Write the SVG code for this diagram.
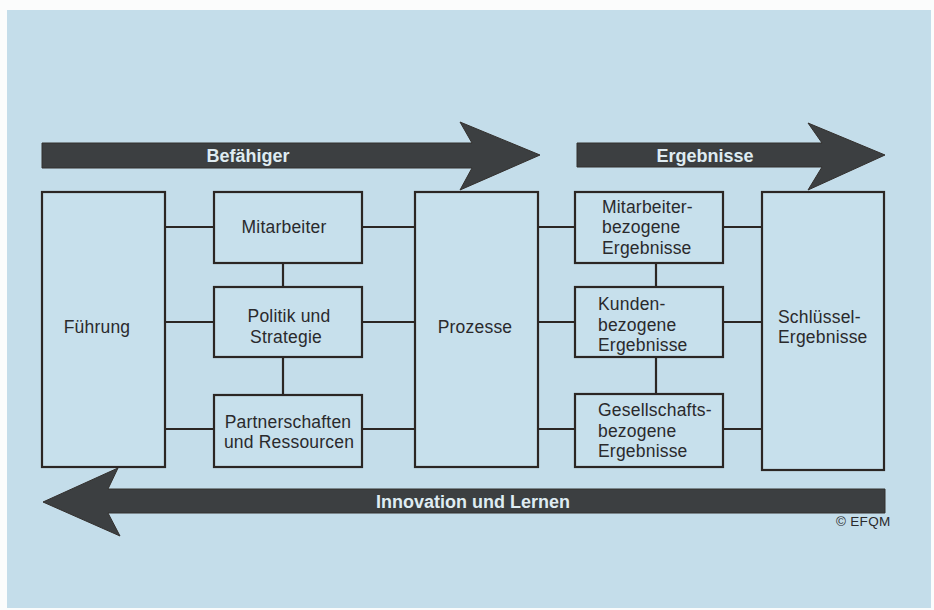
<svg xmlns="http://www.w3.org/2000/svg" width="934" height="610" viewBox="0 0 934 610">
<style>
  .box { fill: #c7e0ec; stroke: #2b2624; stroke-width: 2.2; }
  .conn { stroke: #2b2624; stroke-width: 2.2; fill: none; }
  .arrow { fill: #3c3f41; stroke: #33302e; stroke-width: 1; }
  .t { font-family: "Liberation Sans", Arial, sans-serif; font-size: 17.5px; fill: #2a2a2c; letter-spacing: 0.2px; }
  .c { text-anchor: middle; }
  .bar { font-family: "Liberation Sans", Arial, sans-serif; font-size: 18px; font-weight: bold; fill: #dfecf2; text-anchor: middle; }
  .copy { font-family: "Liberation Sans", Arial, sans-serif; font-size: 13.5px; fill: #2a2a2c; letter-spacing: 0.3px; }
</style>
<rect x="0" y="0" width="934" height="610" fill="#fbfcfc"/>
<rect x="7" y="10" width="924" height="598" fill="#c4ddea"/>

<g id="arrows">
  <g id="befaehiger">
    <polygon class="arrow" points="42,143 472,143 460,122 540,155 460,190 472,168 42,168"/>
    <text class="bar" x="248" y="162">Befähiger</text>
  </g>
  <g id="ergebnisse">
    <polygon class="arrow" points="577,143 822,143 808,123 885,155 808,190 822,167 577,167"/>
    <text class="bar" x="705" y="162">Ergebnisse</text>
  </g>
  <g id="innovation">
    <polygon class="arrow" points="885,489 108,489 118,468 43,502 120,536 108,513 885,513"/>
    <text class="bar" x="473" y="508">Innovation und Lernen</text>
  </g>
</g>

<g id="connectors">
  <line class="conn" x1="165" y1="227" x2="214" y2="227"/>
  <line class="conn" x1="165" y1="322" x2="214" y2="322"/>
  <line class="conn" x1="165" y1="429" x2="214" y2="429"/>
  <line class="conn" x1="362" y1="227" x2="415" y2="227"/>
  <line class="conn" x1="362" y1="322" x2="415" y2="322"/>
  <line class="conn" x1="362" y1="429" x2="415" y2="429"/>
  <line class="conn" x1="283" y1="263" x2="283" y2="287"/>
  <line class="conn" x1="283" y1="357" x2="283" y2="395"/>
  <line class="conn" x1="538" y1="227" x2="575" y2="227"/>
  <line class="conn" x1="538" y1="322" x2="575" y2="322"/>
  <line class="conn" x1="538" y1="429" x2="575" y2="429"/>
  <line class="conn" x1="723" y1="227" x2="762" y2="227"/>
  <line class="conn" x1="723" y1="322" x2="762" y2="322"/>
  <line class="conn" x1="723" y1="429" x2="762" y2="429"/>
  <line class="conn" x1="656" y1="263" x2="656" y2="287"/>
  <line class="conn" x1="656" y1="357" x2="656" y2="394"/>
</g>

<g id="fuehrung">
  <rect class="box" x="42" y="192" width="123" height="275"/>
  <text class="t c" x="97" y="333">Führung</text>
</g>
<g id="mitarbeiter">
  <rect class="box" x="214" y="192" width="148" height="71"/>
  <text class="t c" x="284" y="233">Mitarbeiter</text>
</g>
<g id="politik">
  <rect class="box" x="214" y="287" width="148" height="70"/>
  <text class="t c" x="289" y="322">Politik und</text>
  <text class="t c" x="286" y="343">Strategie</text>
</g>
<g id="partner">
  <rect class="box" x="214" y="395" width="148" height="72"/>
  <text class="t c" x="288" y="428">Partnerschaften</text>
  <text class="t c" x="289" y="448">und Ressourcen</text>
</g>
<g id="prozesse">
  <rect class="box" x="415" y="192" width="123" height="275"/>
  <text class="t c" x="475" y="333">Prozesse</text>
</g>
<g id="mitarbeiter-ergebnisse">
  <rect class="box" x="575" y="192" width="148" height="71"/>
  <text class="t" x="602" y="213">Mitarbeiter-</text>
  <text class="t" x="602" y="233">bezogene</text>
  <text class="t" x="602" y="254">Ergebnisse</text>
</g>
<g id="kunden-ergebnisse">
  <rect class="box" x="575" y="287" width="148" height="70"/>
  <text class="t" x="598" y="310">Kunden-</text>
  <text class="t" x="598" y="331">bezogene</text>
  <text class="t" x="598" y="351">Ergebnisse</text>
</g>
<g id="gesellschaft-ergebnisse">
  <rect class="box" x="575" y="394" width="148" height="73"/>
  <text class="t" x="598" y="416">Gesellschafts-</text>
  <text class="t" x="598" y="437">bezogene</text>
  <text class="t" x="598" y="457">Ergebnisse</text>
</g>
<g id="schluessel-ergebnisse">
  <rect class="box" x="762" y="192" width="122" height="278"/>
  <text class="t" x="778" y="323">Schlüssel-</text>
  <text class="t" x="778" y="343">Ergebnisse</text>
</g>

<text class="copy" x="836" y="526">© EFQM</text>
</svg>
